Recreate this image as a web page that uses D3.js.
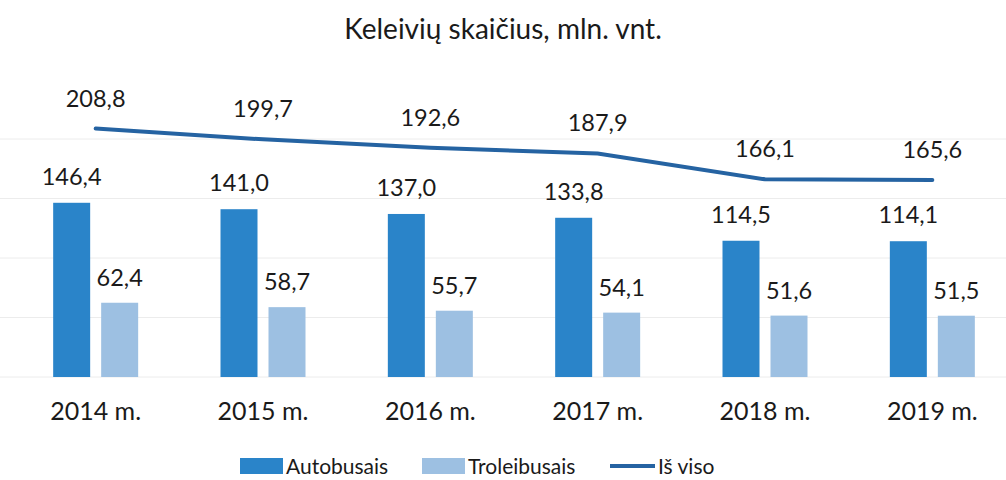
<!DOCTYPE html>
<html>
<head>
<meta charset="utf-8">
<script src="https://cdn.jsdelivr.net/npm/d3@7"></script>
<style>
  body { margin: 0; background: #fff; }
  text { font-family: Lato, "Open Sans", sans-serif; fill: #1a1a1a; }
</style>
</head>
<body>
<svg id="chart" width="1006" height="480"></svg>
<script>
const years = ["2014 m.", "2015 m.", "2016 m.", "2017 m.", "2018 m.", "2019 m."];
const autobusai = [146.4, 141.0, 137.0, 133.8, 114.5, 114.1];
const troleibusai = [62.4, 58.7, 55.7, 54.1, 51.6, 51.5];
const isViso = [208.8, 199.7, 192.6, 187.9, 166.1, 165.6];
const yTicks = [0, 50, 100, 150, 200];

const svg = d3.select("#chart");
const fmt = v => v.toFixed(1).replace(".", ",");

const x = d3.scaleBand().domain(years).range([12, 1016]).padding(0);
const y = d3.scaleLinear().domain([0, 200]).range([377, 139]);

const barW = 37, gap = 11;
const cx = d => x(d) + x.bandwidth() / 2;

// faint gridlines
svg.selectAll("line.grid")
    .data(yTicks)
    .enter().append("line")
    .attr("class", "grid")
    .attr("x1", 0).attr("x2", 1006)
    .attr("y1", d => y(d)).attr("y2", d => y(d))
    .attr("stroke", "#ececec")
    .attr("stroke-width", 1);

// title
svg.append("text")
    .attr("x", 503).attr("y", 39)
    .attr("text-anchor", "middle")
    .attr("font-size", 28)
    .text("Keleivių skaičius, mln. vnt.");

// bars
const g = svg.selectAll("g.year")
    .data(years)
    .enter().append("g")
    .attr("class", "year");

g.append("rect")
    .attr("x", d => cx(d) - gap / 2 - barW)
    .attr("y", (d, i) => y(autobusai[i]))
    .attr("width", barW)
    .attr("height", (d, i) => y(0) - y(autobusai[i]))
    .attr("fill", "#2a84c9");

g.append("rect")
    .attr("x", d => cx(d) + gap / 2)
    .attr("y", (d, i) => y(troleibusai[i]))
    .attr("width", barW)
    .attr("height", (d, i) => y(0) - y(troleibusai[i]))
    .attr("fill", "#9dc0e2");

g.append("text")
    .attr("x", d => cx(d) - gap / 2 - barW / 2)
    .attr("y", (d, i) => y(autobusai[i]) - 18)
    .attr("text-anchor", "middle")
    .attr("font-size", 23.5)
    .text((d, i) => fmt(autobusai[i]));

g.append("text")
    .attr("x", d => cx(d) + gap / 2 + barW / 2)
    .attr("y", (d, i) => y(troleibusai[i]) - 17)
    .attr("text-anchor", "middle")
    .attr("font-size", 23.5)
    .text((d, i) => fmt(troleibusai[i]));

// category labels
g.append("text")
    .attr("x", d => cx(d))
    .attr("y", 420)
    .attr("text-anchor", "middle")
    .attr("font-size", 25)
    .text(d => d);

// total line
const line = d3.line()
    .x((d, i) => cx(years[i]))
    .y(d => y(d));

svg.append("path")
    .datum(isViso)
    .attr("d", line)
    .attr("fill", "none")
    .attr("stroke", "#2563a2")
    .attr("stroke-width", 4)
    .attr("stroke-linecap", "round");

svg.selectAll("text.total")
    .data(isViso)
    .enter().append("text")
    .attr("class", "total")
    .attr("x", (d, i) => cx(years[i]))
    .attr("y", d => y(d) - 22)
    .attr("text-anchor", "middle")
    .attr("font-size", 23.5)
    .text(d => fmt(d));

// legend
const legend = [
    {label: "Autobusais", type: "rect", color: "#2a84c9", x: 240},
    {label: "Troleibusais", type: "rect", color: "#9dc0e2", x: 422},
    {label: "Iš viso", type: "line", color: "#2563a2", x: 610}
];
const lg = svg.selectAll("g.legend")
    .data(legend)
    .enter().append("g")
    .attr("class", "legend")
    .attr("transform", d => `translate(${d.x}, 466)`);

lg.filter(d => d.type === "rect").append("rect")
    .attr("x", 0).attr("y", -8)
    .attr("width", 43).attr("height", 16)
    .attr("fill", d => d.color);

lg.filter(d => d.type === "line").append("line")
    .attr("x1", 0).attr("x2", 45)
    .attr("y1", 0).attr("y2", 0)
    .attr("stroke", d => d.color)
    .attr("stroke-width", 4);

lg.append("text")
    .attr("x", d => d.type === "line" ? 48 : 46)
    .attr("y", 8)
    .attr("font-size", 21)
    .text(d => d.label);
</script>
</body>
</html>
